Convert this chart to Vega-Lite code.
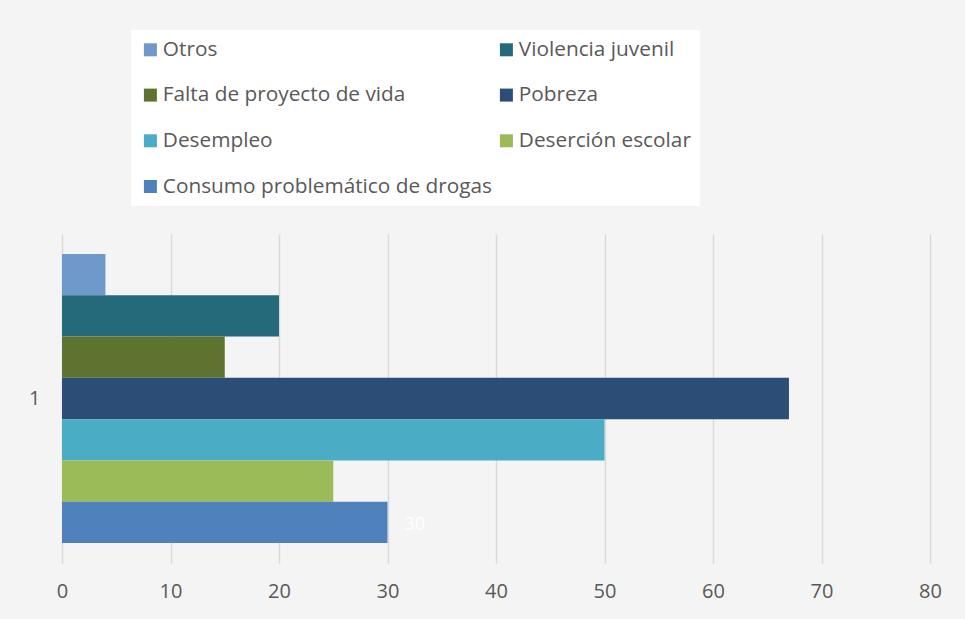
{
  "$schema": "https://vega.github.io/schema/vega-lite/v6.json",
  "width": 868,
  "height": 329,
  "autosize": {"type": "none"},
  "padding": {"left": 62, "top": 234, "right": 35, "bottom": 56},
  "background": "#f4f4f4",
  "config": {
    "font": "Open Sans",
    "view": {"stroke": null, "fill": null}
  },
  "data": {
    "values": [
      {"cat": "1", "serie": "Otros", "valor": 4},
      {"cat": "1", "serie": "Violencia juvenil", "valor": 20},
      {"cat": "1", "serie": "Falta de proyecto de vida", "valor": 15},
      {"cat": "1", "serie": "Pobreza", "valor": 67},
      {"cat": "1", "serie": "Desempleo", "valor": 50},
      {"cat": "1", "serie": "Deserción escolar", "valor": 25},
      {"cat": "1", "serie": "Consumo problemático de drogas", "valor": 30, "etiqueta": "30"}
    ]
  },
  "encoding": {
    "y": {
      "field": "cat", "type": "nominal",
      "scale": {"paddingInner": 0, "paddingOuter": 0},
      "axis": {"title": null, "domain": false, "ticks": false, "labelFontSize": 20, "labelColor": "#595959", "labelPadding": 22, "labelFont": "Open Sans"}
    },
    "yOffset": {
      "field": "serie", "type": "nominal",
      "sort": ["Otros", "Violencia juvenil", "Falta de proyecto de vida", "Pobreza", "Desempleo", "Deserción escolar", "Consumo problemático de drogas"],
      "scale": {"paddingInner": 0, "paddingOuter": 0.485}
    },
    "x": {
      "field": "valor", "type": "quantitative",
      "scale": {"domain": [0, 80], "nice": false},
      "axis": {"title": null, "values": [0, 10, 20, 30, 40, 50, 60, 70, 80], "domain": false, "ticks": false, "grid": true, "gridColor": "#d9d9d9", "gridWidth": 1.5, "labelFontSize": 20, "labelColor": "#595959", "labelPadding": 18, "labelFont": "Open Sans", "labelFlush": false}
    }
  },
  "layer": [
    {
      "mark": {"type": "bar"},
      "encoding": {
        "color": {
          "field": "serie", "type": "nominal",
          "scale": {
            "domain": ["Otros", "Violencia juvenil", "Falta de proyecto de vida", "Pobreza", "Desempleo", "Deserción escolar", "Consumo problemático de drogas"],
            "range": ["#6F98CB", "#256A7A", "#5F7330", "#2C4D75", "#4BACC6", "#9BBB59", "#4F81BD"]
          },
          "legend": {
            "title": null,
            "orient": "none",
            "direction": "horizontal",
            "legendX": 69,
            "legendY": -204,
            "columns": 2,
            "columnPadding": 3,
            "rowPadding": 23.7,
            "padding": 9,
            "fillColor": "white",
            "symbolType": "square",
            "symbolSize": 169,
            "symbolStrokeWidth": 0,
            "labelFontSize": 20.8,
            "labelColor": "#595959",
            "labelFont": "Open Sans",
            "labelOffset": 2,
            "labelLimit": 400
          }
        }
      }
    },
    {
      "transform": [{"filter": "datum.etiqueta != null"}],
      "mark": {"type": "text", "align": "left", "baseline": "middle", "dx": 17, "dy": 3, "color": "white", "fontSize": 18},
      "encoding": {"text": {"field": "etiqueta"}}
    }
  ]
}
